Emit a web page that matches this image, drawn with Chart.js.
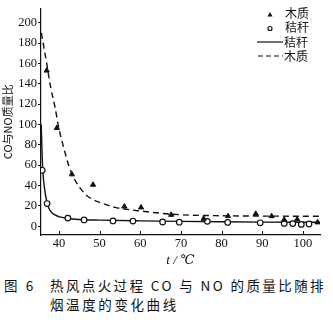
<!DOCTYPE html>
<html>
<head>
<meta charset="utf-8">
<script src="https://cdn.jsdelivr.net/npm/chart.js@4.4.0/dist/chart.umd.min.js"></script>
<style>
  html, body { margin: 0; padding: 0; background: #fff; }
  #wrap { position: relative; width: 333px; height: 332px; overflow: hidden; }
  #chart { position: absolute; left: 0; top: 0; }
  .cap { position: absolute; font-family: 'Noto Sans CJK SC', 'Liberation Serif', serif; font-size: 13.5px; color: #111; white-space: nowrap; letter-spacing: 2.6px; }
</style>
</head>
<body>
<div id="wrap">
  <canvas id="chart" width="333" height="268"></canvas>
  <div class="cap" style="left:4px; top:275px;">图 6</div>
  <div class="cap" style="left:50px; top:275px; letter-spacing:2.4px;">热风点火过程 CO 与 NO 的质量比随排</div>
  <div class="cap" style="left:50px; top:294px;">烟温度的变化曲线</div>
</div>
<script>
// measured points: wood (triangles) and straw (circles)
const woodT = [37.0, 39.5, 43.2, 48.4, 56.1, 60.2, 67.6, 75.6, 81.6, 88.4, 92.3, 95.4, 98.6, 103.6];
const woodRatio = [153, 96.6, 51, 40.8, 19.4, 18.5, 11.2, 7.4, 9.9, 12.2, 9.9, 6.4, 6.7, 3.8];

const strawT = [35.9, 37.1, 42.2, 46.2, 53.3, 58.2, 65.5, 69.6, 76.5, 81.5, 89.5, 95.4, 97.5, 99.6, 101.5];
const strawRatio = [55, 22.3, 8, 6.2, 5.2, 5.1, 4.2, 4.0, 4.8, 3.8, 3.4, 2.8, 2.6, 1.8, 2.2];

// fitted curves
const woodFitT = [35.7, 37, 38, 39, 40, 41, 42.4, 44, 46.5, 48, 50, 53.8, 56, 60, 65, 70, 80, 90, 104.2];
const woodFitRatio = [190, 160, 136, 118, 96, 80, 60, 45, 31.5, 27, 23.5, 18.5, 17, 15, 12.8, 11.3, 10.3, 10, 9.8];

const strawFitT = [35.65, 36, 36.5, 37, 37.5, 38.5, 40, 42, 45, 50, 60, 70, 80, 90, 104.2];
const strawFitRatio = [100, 58, 36, 25, 18, 12.5, 9.5, 7.8, 6.6, 6, 5.3, 4.8, 4.4, 4.1, 3.9];

const xTicks = [40, 50, 60, 70, 80, 90, 100];
const yTicks = [0, 20, 40, 60, 80, 100, 120, 140, 160, 180, 200];

const pts = (xs, ys) => xs.map((x, i) => ({ x: x, y: ys[i] }));

const serif = "'Liberation Serif', 'DejaVu Serif', serif";
const cjk = "'Noto Sans CJK SC', sans-serif";

// x ticks point up into the plot
const innerTicks = {
    id: 'innerTicks',
    afterDraw(chart) {
        const ctx = chart.ctx;
        const xs = chart.scales.x;
        const bottom = chart.chartArea.bottom;
        ctx.save();
        ctx.strokeStyle = '#111';
        ctx.lineWidth = 1;
        xTicks.forEach(v => {
            const px = Math.round(xs.getPixelForValue(v)) + 0.5;
            ctx.beginPath();
            ctx.moveTo(px, bottom);
            ctx.lineTo(px, bottom - 4);
            ctx.stroke();
        });
        ctx.restore();
    }
};

// legend block, top right
const keyBox = {
    id: 'keyBox',
    afterDraw(chart) {
        const ctx = chart.ctx;
        ctx.save();
        ctx.fillStyle = '#111';
        ctx.strokeStyle = '#111';
        ctx.font = '12px ' + cjk;
        ctx.textBaseline = 'middle';
        ctx.fillText('木质', 285, 13);
        ctx.fillText('秸秆', 285, 27.5);
        ctx.fillText('秸秆', 284, 42);
        ctx.fillText('木质', 284, 56);
        // triangle
        ctx.beginPath();
        ctx.moveTo(270, 12);
        ctx.lineTo(272.5, 16.5);
        ctx.lineTo(267.5, 16.5);
        ctx.closePath();
        ctx.fill();
        // circle
        ctx.lineWidth = 1.2;
        ctx.beginPath();
        ctx.arc(270, 28.5, 2, 0, Math.PI * 2);
        ctx.stroke();
        // solid line
        ctx.beginPath();
        ctx.moveTo(257, 42);
        ctx.lineTo(283, 42);
        ctx.stroke();
        // dashed line
        ctx.setLineDash([5, 3]);
        ctx.beginPath();
        ctx.moveTo(258, 56);
        ctx.lineTo(283, 56);
        ctx.stroke();
        ctx.restore();
    }
};

new Chart(document.getElementById('chart').getContext('2d'), {
    type: 'scatter',
    data: {
        datasets: [
            {
                label: '木质',
                data: pts(woodT, woodRatio),
                pointStyle: 'triangle',
                pointRadius: 3,
                backgroundColor: '#111',
                borderColor: '#111',
                borderWidth: 1
            },
            {
                label: '秸秆',
                data: pts(strawT, strawRatio),
                pointStyle: 'circle',
                pointRadius: 2.8,
                backgroundColor: '#fff',
                borderColor: '#111',
                borderWidth: 1.2
            },
            {
                label: '秸秆',
                data: pts(strawFitT, strawFitRatio),
                showLine: true,
                pointRadius: 0,
                borderColor: '#111',
                borderWidth: 1.4,
                tension: 0.35,
                cubicInterpolationMode: 'monotone'
            },
            {
                label: '木质',
                data: pts(woodFitT, woodFitRatio),
                showLine: true,
                pointRadius: 0,
                borderColor: '#111',
                borderWidth: 1.4,
                borderDash: [6, 4],
                cubicInterpolationMode: 'monotone'
            }
        ]
    },
    options: {
        responsive: false,
        animation: false,
        clip: true,
        layout: { padding: { left: 0, right: 13, top: 2, bottom: 0 } },
        plugins: {
            legend: { display: false },
            tooltip: { enabled: false }
        },
        scales: {
            x: {
                type: 'linear',
                min: 35.6,
                max: 104.2,
                afterBuildTicks: s => { s.ticks = xTicks.map(v => ({ value: v })); },
                afterFit: s => { s.height = 33; },
                grid: { display: false, drawTicks: false },
                border: { display: true, color: '#111', width: 1.2 },
                ticks: { color: '#111', padding: 1, font: { family: serif, size: 12.5 } },
                title: {
                    display: true,
                    text: 't / ℃',
                    color: '#111',
                    padding: { top: 0, bottom: 0 },
                    font: { family: serif, size: 13, style: 'italic' }
                }
            },
            y: {
                type: 'linear',
                min: -8.6,
                max: 214,
                afterBuildTicks: s => { s.ticks = yTicks.map(v => ({ value: v })); },
                afterFit: s => { s.width = 41; },
                grid: { drawOnChartArea: false, drawTicks: true, tickLength: 3, color: '#111' },
                border: { display: true, color: '#111', width: 1.2 },
                ticks: { color: '#111', padding: 1, font: { family: serif, size: 12.5 } },
                title: {
                    display: true,
                    text: 'CO与NO质量比',
                    color: '#111',
                    padding: { top: 1, bottom: 0 },
                    font: { family: cjk, size: 11 }
                }
            }
        }
    },
    plugins: [innerTicks, keyBox]
});
</script>
</body>
</html>
